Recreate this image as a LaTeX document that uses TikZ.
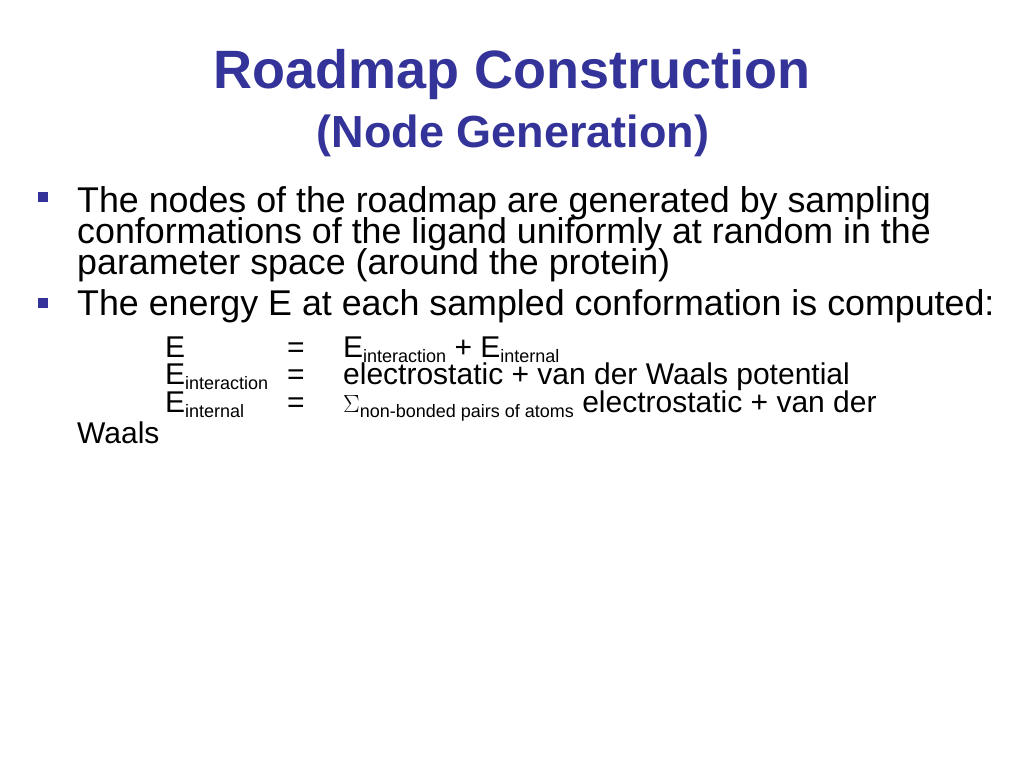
\documentclass[tikz,border=0pt]{standalone}
\usepackage{fontspec}
\setmainfont{Liberation Sans}
\definecolor{slideblue}{RGB}{51,51,153}
\newcommand{\lowsub}[1]{\raisebox{-5pt}{\fontsize{18}{19}\selectfont #1}}
\tikzset{
  bodyline/.style={anchor=base west, inner sep=0pt, font=\fontsize{35.8}{38}\selectfont},
  eqline/.style={anchor=base west, inner sep=0pt, font=\fontsize{30}{32}\selectfont},
  bulletbox/.style={fill=slideblue}
}
\begin{document}
\begin{tikzpicture}[x=1pt,y=-1pt]
  \fill [white] (0,0) rectangle (1024,768);
  \useasboundingbox (0,0) rectangle (1024,768);

  \node [anchor=base, inner sep=0pt, text=slideblue, font=\fontsize{54}{60}\selectfont\bfseries] (title) at (512,88) {Roadmap Construction};
  \node [anchor=base, inner sep=0pt, text=slideblue, font=\fontsize{45}{48}\selectfont\bfseries] (subtitle) at (513,147) {(Node Generation)};

  \fill [bulletbox] (38,192) rectangle (48,202);
  \node [bodyline] (l1) at (77,212) {The nodes of the roadmap are generated by sampling};
  \node [bodyline] (l2) at (77,243) {conformations of the ligand uniformly at random in the};
  \node [bodyline] (l3) at (77,274) {parameter space (around the protein)};
  \fill [bulletbox] (38,298) rectangle (48,308);
  \node [bodyline] (l4) at (77,315) {The energy E at each sampled conformation is computed:};

  \node [eqline] (e1) at (165,357) {E};
  \node [eqline] (q1) at (287,357) {=};
  \node [eqline] (r1) at (343,357) {E\lowsub{interaction} + E\lowsub{internal}};
  \node [eqline] (e2) at (165,384) {E\lowsub{interaction}};
  \node [eqline] (q2) at (287,384) {=};
  \node [eqline] (r2) at (343,384) {electrostatic + van der Waals potential};
  \node [eqline] (e3) at (165,412) {E\lowsub{internal}};
  \node [eqline] (q3) at (287,412) {=};
  \node [eqline] (r3) at (343,412) {$\Sigma$\lowsub{non-bonded pairs of atoms} electrostatic + van der};
  \node [eqline] (w3) at (77,443) {Waals};
\end{tikzpicture}
\end{document}
